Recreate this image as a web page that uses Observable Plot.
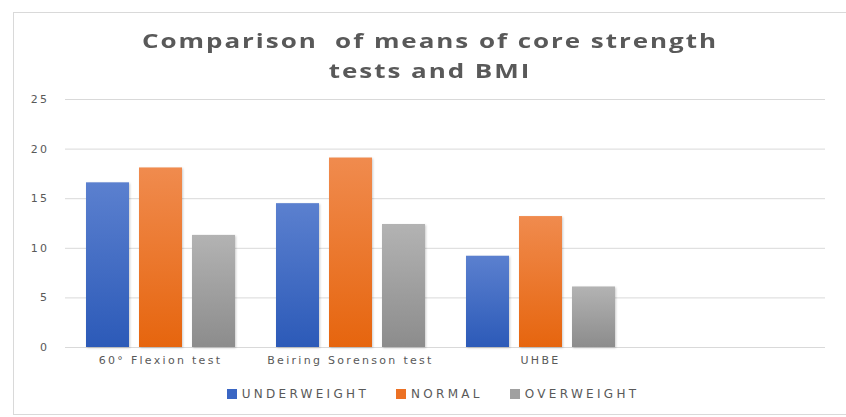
<!DOCTYPE html>
<html><head><meta charset="utf-8">
<script src="https://cdn.jsdelivr.net/npm/d3@7"></script>
<script src="https://cdn.jsdelivr.net/npm/@observablehq/plot@0.6"></script>
<style>
body{margin:0;background:#fff;}
#wrap{position:relative;width:846px;height:417px;overflow:hidden;font-family:"DejaVu Sans",sans-serif;color:#595959}
#frame{position:absolute;left:13px;top:12px;width:845px;height:403px;border:1px solid #d9d9d9;box-sizing:border-box}
#title{position:absolute;left:0;width:860px;top:26px;text-align:center;font-family:"Open Sans",sans-serif;font-weight:700;font-size:20px;line-height:30px;letter-spacing:1.5px;color:#595959;transform:scaleX(1.3);transform-origin:430px 0}
#grid,#chart{position:absolute;left:0;top:88px}
#grid svg text{letter-spacing:2.4px}
#chart svg text{letter-spacing:2.3px}
#legend{position:absolute;top:386px;left:0;width:866px;height:16px;display:flex;justify-content:center;align-items:center;gap:27px;font-size:12px;letter-spacing:3.3px;color:#595959}
.item{display:flex;align-items:center;gap:5px}
.sw{width:10px;height:10px;display:inline-block}
</style>
</head><body>
<div id="wrap">
  <div id="frame"></div>
  <div id="title">Comparison&nbsp; of means of core strength<br>tests and BMI</div>
  <div id="grid"></div>
  <div id="chart"></div>
  <div id="legend"></div>
</div>
<script>
const tests = ["60° Flexion test", "Beiring Sorenson test", "UHBE"];
const groups = ["UNDERWEIGHT", "NORMAL", "OVERWEIGHT"];
const underweight = [16.6, 14.5, 9.2];
const normal = [18.1, 19.1, 13.2];
const overweight = [11.3, 12.4, 6.1];
const yTicks = [0, 5, 10, 15, 20, 25];
const swatchColors = ["#3a66c4", "#ec7124", "#a0a0a0"];

const series = [underweight, normal, overweight];
const data = tests.flatMap((t, i) => groups.map((g, j) => ({test: t, group: g, value: series[j][i]})));

const common = {
  width: 846, height: 285,
  marginLeft: 65, marginRight: 21, marginTop: 11, marginBottom: 26,
  style: {fontFamily: "DejaVu Sans, sans-serif", fontSize: "11px", color: "#595959", background: "transparent"},
  y: {domain: [0, 25], axis: null}
};

// Background layer: y axis and horizontal gridlines across the whole plot area
const gridPlot = Plot.plot({
  ...common,
  marks: [
    Plot.gridY(yTicks, {stroke: "#d9d9d9", strokeOpacity: 1, strokeWidth: 1}),
    Plot.axisY(yTicks, {tickSize: 0, tickPadding: 16, label: null, fill: "#595959"})
  ]
});
document.getElementById("grid").appendChild(gridPlot);

// Foreground layer: grouped bars (fourth category slot left empty, as in the original)
const chart = Plot.plot({
  ...common,
  fx: {domain: [...tests, " "], padding: 0, label: null},
  x: {domain: groups, paddingInner: 0.19, paddingOuter: 0.387, axis: null},
  color: {domain: groups, range: ["url(#gU)", "url(#gN)", "url(#gO)"]},
  marks: [
    Plot.axisFx({anchor: "bottom", tickSize: 0, tickPadding: 9, label: null, fill: "#595959"}),
    Plot.barY(data, {fx: "test", x: "group", y: "value", fill: "group"})
  ]
});

const svg = d3.select(chart);
const defs = svg.insert("defs", ":first-child");
[["gU", "#5b80cf", "#2c5ab8"], ["gN", "#f08b4e", "#e6650e"], ["gO", "#b3b3b3", "#8c8c8c"]].forEach(([id, a, b]) => {
  const g = defs.append("linearGradient").attr("id", id).attr("x1", 0).attr("y1", 0).attr("x2", 0).attr("y2", 1);
  g.append("stop").attr("offset", "0%").attr("stop-color", a);
  g.append("stop").attr("offset", "100%").attr("stop-color", b);
});
svg.selectAll("g[aria-label='bar'] rect").style("filter", "drop-shadow(1px 1px 1px rgba(0,0,0,0.2))");
document.getElementById("chart").appendChild(chart);

const legend = d3.select("#legend");
groups.forEach((g, i) => {
  const it = legend.append("div").attr("class", "item");
  it.append("span").attr("class", "sw").style("background", swatchColors[i]);
  it.append("span").text(g);
});
</script>
</body></html>
